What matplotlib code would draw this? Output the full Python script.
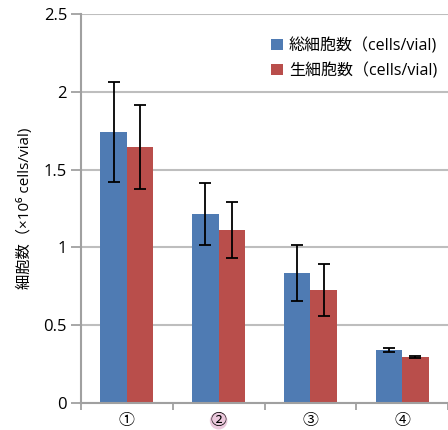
import matplotlib
matplotlib.use("Agg")
import matplotlib.pyplot as plt
import numpy as np

plt.rcParams['font.family'] = ['Open Sans', 'Noto Sans CJK JP', 'DejaVu Sans']

categories = ['①', '②', '③', '④']
total_cells = [1.74, 1.215, 0.835, 0.34]
total_err = [0.32, 0.20, 0.18, 0.015]
live_cells = [1.645, 1.11, 0.726, 0.293]
live_err = [0.27, 0.18, 0.17, 0.006]
labels = ['総細胞数（cells/vial)', '生細胞数（cells/vial)']

fig = plt.figure(figsize=(4.48, 4.30), dpi=100)
ax = fig.add_axes([81 / 448, 27 / 430, 1 - 81 / 448, 389 / 430])

x = np.arange(len(categories))
w = 0.29
ax.bar(x - w / 2, total_cells, w, color='#4F7BB3', label=labels[0], zorder=2)
ax.bar(x + w / 2, live_cells, w, color='#B94E4B', label=labels[1], zorder=2)
ax.errorbar(x - w / 2, total_cells, yerr=total_err, fmt='none', ecolor='black',
            elinewidth=1.3, capsize=4, capthick=1.3, zorder=3)
ax.errorbar(x + w / 2, live_cells, yerr=live_err, fmt='none', ecolor='black',
            elinewidth=1.3, capsize=4, capthick=1.3, zorder=3)

ax.set_xlim(-0.5, 3.5)
ax.set_ylim(0, 2.5)
ax.set_yticks([0, 0.5, 1, 1.5, 2, 2.5])
ax.set_yticklabels(['0', '0.5', '1', '1.5', '2', '2.5'])
ax.yaxis.grid(True, color='#BEBEBE', linewidth=1.5, zorder=0)
ax.set_axisbelow(True)

ax.set_xticks(x)
ax.set_xticklabels(categories)
ax.set_xticks(np.arange(-0.5, 3.6, 1), minor=True)
ax.tick_params(axis='x', which='major', length=0, labelsize=11.5, pad=7)
ax.tick_params(axis='x', which='minor', length=5, color='#A0A0A0', width=1.3)
ax.tick_params(axis='y', length=7, color='#A0A0A0', width=1.3, labelsize=12, pad=3)
ax.get_xticklabels()[1].set_bbox(dict(boxstyle='circle,pad=0.05', facecolor='#EBC8DC',
                                      edgecolor='none'))

for s in ['top', 'right']:
    ax.spines[s].set_visible(False)
for s in ['left', 'bottom']:
    ax.spines[s].set_color('#A0A0A0')
    ax.spines[s].set_linewidth(1.5)

ax.set_ylabel('細胞数（×10⁶ cells/vial)', fontsize=11, labelpad=8)

ax.legend(loc='upper right', frameon=False, fontsize=11.5, handlelength=0.7,
          handleheight=0.7, handletextpad=0.4, labelspacing=0.55,
          bbox_to_anchor=(1.01, 0.975))

fig.savefig('out.png', dpi=100)
